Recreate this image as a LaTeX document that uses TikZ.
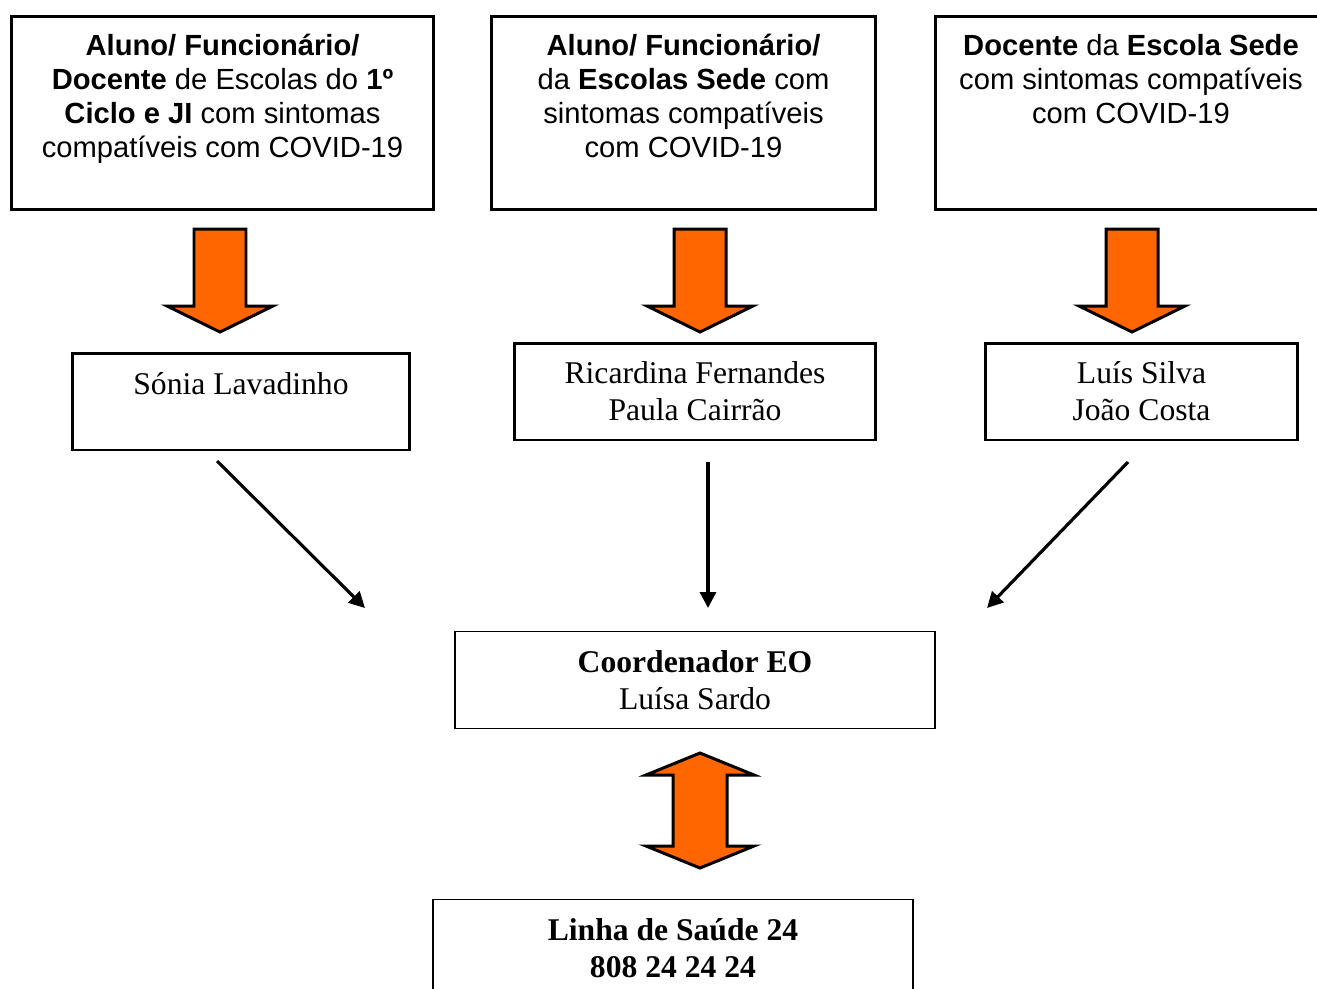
\documentclass[tikz,border=0pt]{standalone}
\usepackage{fontspec}
\setmainfont{Liberation Serif}
\newfontfamily\arialfont{Liberation Sans}
\usetikzlibrary{arrows.meta,positioning}
\definecolor{laranja}{HTML}{FF6600}

\begin{document}
\begin{tikzpicture}[x=0.02cm,y=-0.02cm,line join=miter,
  topo/.style={draw,line width=1.7pt,align=center,inner sep=0pt,minimum height=3.86cm,
    font=\arialfont\fontsize{16.6}{19.3}\selectfont},
  nome/.style={draw,line width=1.7pt,align=center,inner sep=0pt,minimum height=1.94cm,
    font=\fontsize{18}{21}\selectfont},
  seta/.style={fill=laranja,draw=black,line width=1.7pt},
  liga/.style={line width=1.8pt,-{Triangle[length=9pt,width=9pt]}}]
  \useasboundingbox (0,0) rectangle (1317,988);
  % caixas de cima
  \node[topo,minimum width=8.46cm] (alunoJI) at (222.5,113)
    {\textbf{Aluno/ Funcionário/}\\\textbf{Docente} de Escolas do \textbf{1º}\\
     \textbf{Ciclo e JI} com sintomas\\compatíveis com COVID-19\\\mbox{}};
  \node[topo,minimum width=7.7cm] (alunoSede) at (683.5,113)
    {\textbf{Aluno/ Funcionário/}\\da \textbf{Escolas Sede} com\\
     sintomas compatíveis\\com COVID-19\\\mbox{}};
  \node[topo,minimum width=7.84cm] (docenteSede) at (1131,113)
    {\textbf{Docente} da \textbf{Escola Sede}\\com sintomas compatíveis\\
     com COVID-19\\\mbox{}\\\mbox{}};
  % setas laranja
  \foreach \cx in {220,700,1132}
    \draw[seta] (\cx-26,229) -- (\cx+26,229) -- (\cx+26,306) -- (\cx+53,306)
      -- (\cx,332) -- (\cx-53,306) -- (\cx-26,306) -- cycle;
  % responsaveis
  \node[nome,minimum width=6.76cm] (sonia) at (241,401.5) {Sónia Lavadinho\\\mbox{}};
  \node[nome,minimum width=7.24cm] (ricardina) at (695,391.5)
    {Ricardina Fernandes\\Paula Cairrão};
  \node[nome,minimum width=6.26cm] (luis) at (1141.5,391.5) {Luís Silva\\João Costa};
  % coordenador e linha de saude
  \node[nome,line width=0.8pt,minimum width=9.6cm] (coord) at (695,680)
    {\textbf{Coordenador EO}\\Luísa Sardo};
  \node[nome,line width=1.1pt,minimum width=9.6cm] (saude) at (673,948)
    {\textbf{Linha de Saúde 24}\\\textbf{808 24 24 24}};
  % ligacoes
  \coordinate (s1) at (217,461);
  \coordinate (e1) at (365,608);
  \coordinate (s2) at (708,462);
  \coordinate (e2) at (708,608);
  \coordinate (s3) at (1128,462);
  \coordinate (e3) at (987,608);
  \draw[liga] (s1) -- (e1);
  \draw[liga] (s2) -- (e2);
  \draw[liga] (s3) -- (e3);
  \draw[seta] (700,753) -- (754,775) -- (727,775) -- (727,846) -- (754,846)
    -- (700,868) -- (646,846) -- (673,846) -- (673,775) -- (646,775) -- cycle;
\end{tikzpicture}
\end{document}
